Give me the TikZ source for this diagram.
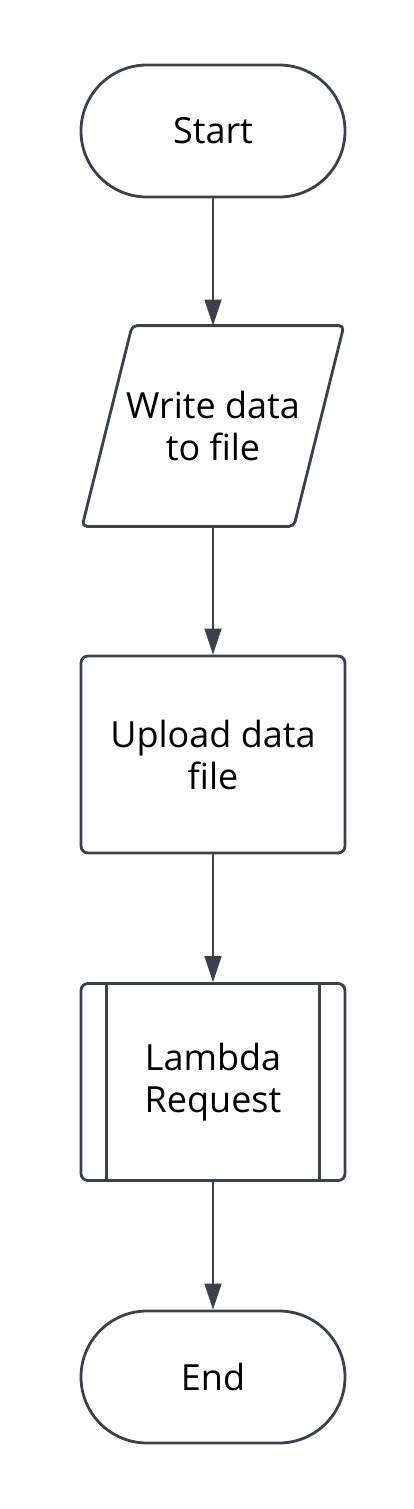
\documentclass[tikz,border=0pt]{standalone}
\usepackage{fontspec}
\setmainfont{Open Sans}
\usetikzlibrary{arrows.meta,calc}
\definecolor{ink}{HTML}{3B4049}
\tikzset{
  box/.style={draw=ink, line width=2.8pt, fill=white, minimum width=264pt, align=center,
    font=\fontsize{36}{42}\selectfont, text=black, inner sep=0pt},
  stadium/.style={box, rectangle, rounded corners=66pt, minimum height=132pt},
  procbox/.style={box, rectangle, rounded corners=7pt, minimum height=197pt},
  iobox/.style={box, draw=none, fill=none, minimum height=198pt, minimum width=211pt},
  flow/.style={draw=ink, line width=1.6pt, -{Triangle[length=26pt,width=17pt]}},
}
\begin{document}
\begin{tikzpicture}[x=1pt,y=1pt]
\useasboundingbox[fill=white] (0,0) rectangle (413,-1509);
\node[stadium] (start) at (213,-131) {Start};
\node[iobox] (write) at (213,-426) {Write data\\to file};
\draw[draw=ink, line width=2.8pt, rounded corners=5pt]
  ($(write.north west)+(26,0)$) -- ($(write.north east)+(24,0)$) --
  ($(write.south east)+(-26,0)$) -- ($(write.south west)+(-24,0)$) -- cycle;
\node[procbox] (upload) at (213,-754.5) {Upload data\\file};
\node[procbox] (lambda) at (213,-1082) {Lambda\\Request};
\draw[draw=ink, line width=2.8pt] ($(lambda.north west)+(27,0)$) -- ($(lambda.south west)+(27,0)$);
\draw[draw=ink, line width=2.8pt] ($(lambda.north east)+(-27,0)$) -- ($(lambda.south east)+(-27,0)$);
\node[stadium] (end) at (213,-1377) {End};
\draw[flow] (start) -- (write);
\draw[flow] (write) -- (upload);
\draw[flow] (upload) -- (lambda);
\draw[flow] (lambda) -- (end);
\end{tikzpicture}
\end{document}
